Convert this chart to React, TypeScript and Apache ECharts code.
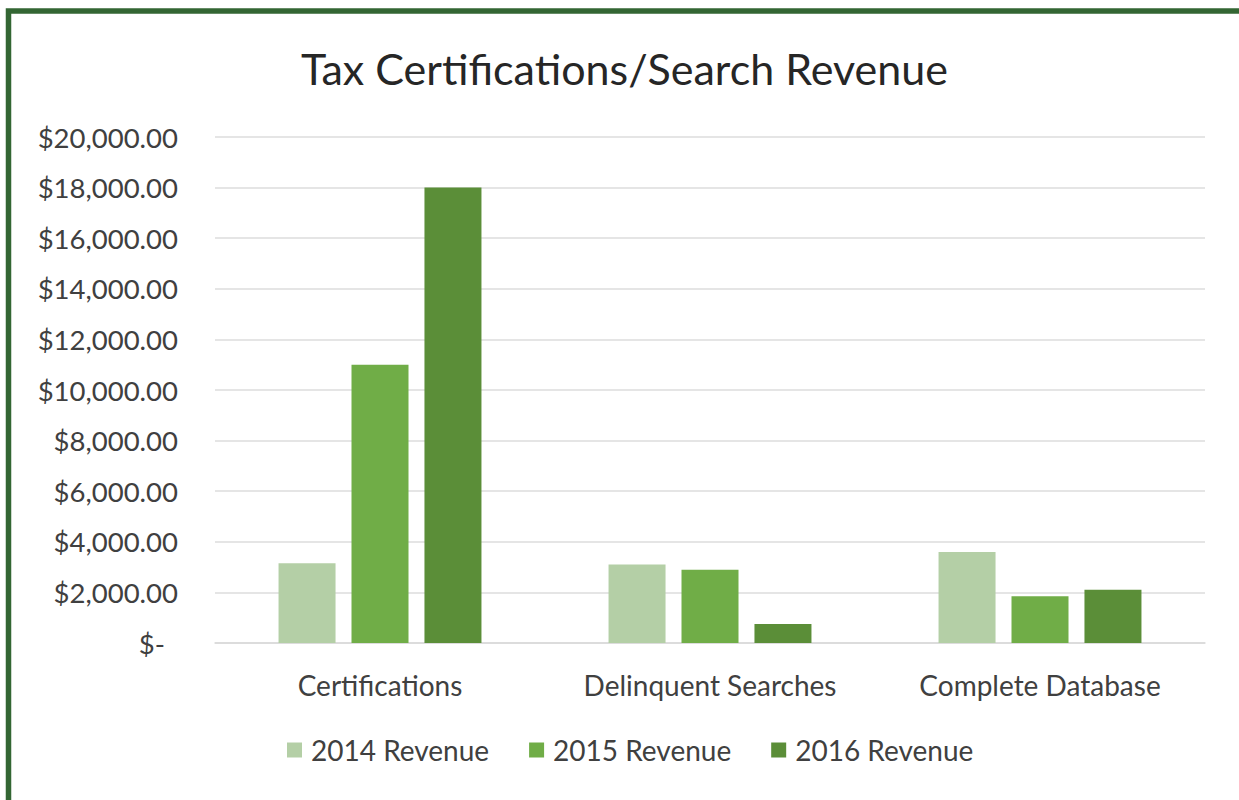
import React, { useEffect, useRef } from "react";
import * as echarts from "echarts";

const categories = ["Certifications", "Delinquent Searches", "Complete Database"];
const seriesNames = ["2014 Revenue", "2015 Revenue", "2016 Revenue"];
const revenue2014 = [3150, 3100, 3600];
const revenue2015 = [11000, 2900, 1850];
const revenue2016 = [18000, 750, 2100];
const seriesColors = ["#B4CFA6", "#70AD47", "#5B8E38"];
const yMin = 0;
const yMax = 20000;
const yInterval = 2000;

const FONT = "Lato";
const TEXT = "#404040";

export default function App() {
  const ref = useRef<HTMLDivElement>(null);
  useEffect(() => {
    document.body.style.margin = "0";
    const chart = echarts.init(ref.current!, null, { renderer: "svg" });
    const values = [revenue2014, revenue2015, revenue2016];
    chart.setOption({
      animation: false,
      backgroundColor: "#ffffff",
      title: {
        text: "Tax Certifications/Search Revenue",
        left: 296,
        top: 42,
        textStyle: { fontFamily: FONT, fontSize: 43, fontWeight: "normal", color: "#262626" },
      },
      graphic: [
        {
          type: "rect",
          shape: { x: 8.5, y: 11, width: 1400, height: 1000 },
          style: { fill: "none", stroke: "#336633", lineWidth: 5.5 },
          silent: true,
        },
      ],
      legend: {
        left: 282,
        top: 731,
        itemWidth: 15,
        itemHeight: 15,
        itemGap: 40,
        icon: "rect",
        textStyle: { fontFamily: FONT, fontSize: 28, color: TEXT, padding: [0, 0, 0, 4] },
        data: seriesNames,
      },
      grid: { left: 215, right: 34, top: 137, bottom: 157, containLabel: false },
      xAxis: {
        type: "category",
        data: categories,
        axisLine: { lineStyle: { color: "#D9D9D9", width: 1.5 } },
        axisTick: { show: false },
        axisLabel: { fontFamily: FONT, fontSize: 28, color: TEXT, margin: 28 },
      },
      yAxis: {
        type: "value",
        min: yMin,
        max: yMax,
        interval: yInterval,
        axisLine: { show: false },
        axisTick: { show: false },
        splitLine: { lineStyle: { color: "#DCDCDC", width: 1.5 } },
        axisLabel: {
          fontFamily: FONT,
          fontSize: 27.5,
          color: TEXT,
          margin: 37,
          formatter: (v: number) =>
            v === 0
              ? "{z|$-}"
              : "$" + v.toLocaleString("en-US", { minimumFractionDigits: 2, maximumFractionDigits: 2 }),
          rich: { z: { fontFamily: FONT, fontSize: 27.5, color: TEXT, padding: [0, 13, 0, 0] } },
        },
      },
      series: seriesNames.map((name, i) => ({
        name,
        type: "bar",
        data: values[i],
        barWidth: 57,
        barGap: "28%",
        itemStyle: { color: seriesColors[i] },
      })),
    });
    return () => chart.dispose();
  }, []);
  return <div ref={ref} style={{ position: "absolute", left: 0, top: 0, width: 1239, height: 800 }} />;
}
